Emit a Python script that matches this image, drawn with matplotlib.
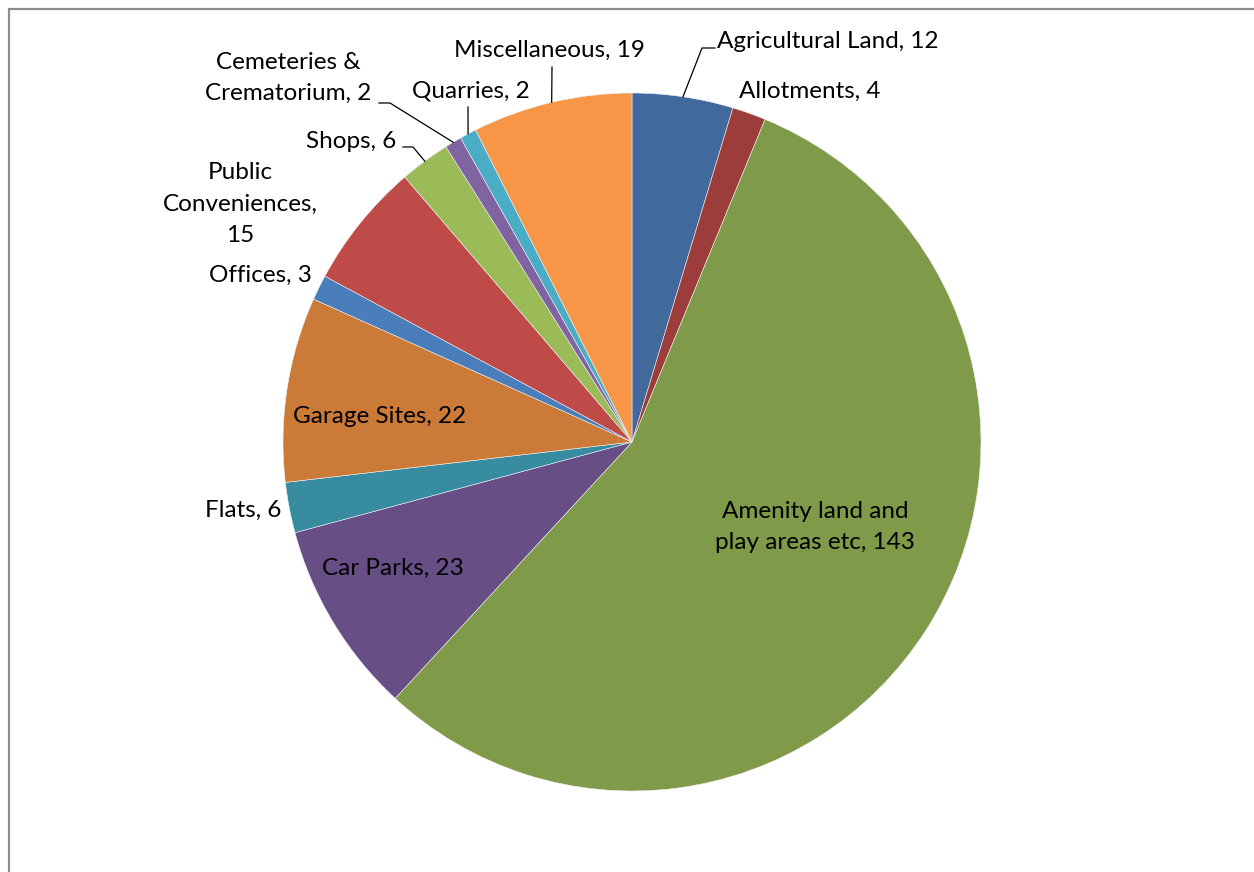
import matplotlib
matplotlib.use("Agg")
import matplotlib.pyplot as plt
import numpy as np
from matplotlib.patches import Rectangle

categories = ["Agricultural Land", "Allotments", "Amenity land and\nplay areas etc",
              "Car Parks", "Flats", "Garage Sites", "Offices", "Public\nConveniences,\n",
              "Shops", "Cemeteries &\nCrematorium", "Quarries", "Miscellaneous"]
values = [12, 4, 143, 23, 6, 22, 3, 15, 6, 2, 2, 19]
colors = ["#41699B", "#9C3D3B", "#7F9A48", "#674F86", "#378CA0", "#CB7A37",
          "#4A7EBB", "#BE4B48", "#9BBB59", "#8064A2", "#4BACC6", "#F79646"]

W, H = 1254, 872
fig = plt.figure(figsize=(W / 100, H / 100), dpi=100)
ax = fig.add_axes([0, 0, 1, 1])

cx, cy, R = 632, H - 442, 349
wedges, _ = ax.pie(values, colors=colors, startangle=90, counterclock=False,
                   center=(cx, cy), radius=R, frame=True,
                   wedgeprops=dict(linewidth=0.4, edgecolor="#f0f0f0"))
ax.set_xlim(0, W)
ax.set_ylim(0, H)
ax.axis("off")

FONT = "Lato"
FS = 17.5

def lbl(i):
    name = categories[i]
    if name.endswith("\n"):
        return name + str(values[i])
    return f"{name}, {values[i]}"

# label layout: (x, y_pixel_from_top, ha)
layout = {
    0: (717, 42, "left"),
    1: (739, 91, "left"),
    2: (815, 527, "center"),
    3: (322, 568, "left"),
    4: (205, 510, "left"),
    5: (293, 417, "left"),
    6: (209, 275, "left"),
    7: (240, 204, "center"),
    8: (306, 141, "left"),
    9: (288, 78, "center"),
    10: (412, 91, "left"),
    11: (454, 50, "left"),
}
for i, (x, yp, ha) in layout.items():
    ax.text(x, H - yp, lbl(i), ha=ha, va="center", fontsize=FS, family=FONT,
            color="#000000", linespacing=1.6)

# leader lines from wedge mid-angle edge points
cum = np.cumsum([0] + values)
total = sum(values)
def edge_pt(i):
    mid = (cum[i] + values[i] / 2) / total * 2 * np.pi
    return cx + R * np.sin(mid), cy + R * np.cos(mid)

leaders = {
    0: [(702, 48), (715, 48)],
    11: [(552, 67)],
    10: [(468, 107)],
    9: [(390, 103), (379, 103)],
    8: [(413, 147), (403, 147)],
}
for i, pts in leaders.items():
    ex, ey = edge_pt(i)
    xs = [ex] + [p[0] for p in pts]
    ys = [ey] + [H - p[1] for p in pts]
    ax.plot(xs, ys, color="#000000", lw=0.9)

# chart frame (cropped at right and bottom)
fig.patches.append(Rectangle((9 / W, -0.1), 1.2, (H - 9) / H + 0.1,
                             transform=fig.transFigure, fill=False,
                             edgecolor="#8c8c8c", lw=1.6))

fig.savefig("out.png", dpi=100)
